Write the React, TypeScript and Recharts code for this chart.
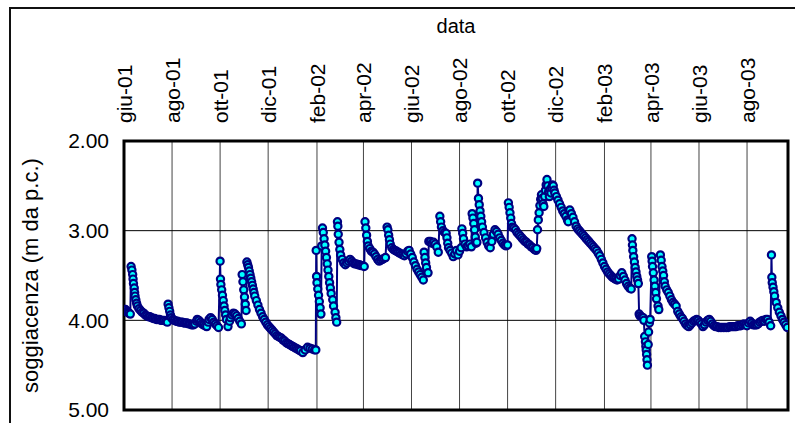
import React from 'react';
import {
  LineChart,
  Line,
  XAxis,
  YAxis,
  CartesianGrid,
  ReferenceArea,
} from 'recharts';

// giorni dal 1 giugno 2001 -> soggiacenza (m da p.c.)
const giu01_ago01: [number, number][] = [
  [0, 3.88], [1, 3.89], [2, 3.88], [3, 3.9], [4, 3.9], [5, 3.91], [6, 3.92], [8, 3.93],
  [9, 3.4], [10, 3.44], [11, 3.49], [11.5, 3.54], [12, 3.59], [13, 3.64], [13.5, 3.69],
  [14, 3.73], [15, 3.77], [16, 3.81], [17, 3.84], [19, 3.87], [21, 3.89], [23, 3.91],
  [25, 3.92], [27, 3.94], [29, 3.95], [31, 3.96], [33, 3.96], [35, 3.97], [37, 3.98],
  [39, 3.98], [41, 3.99], [43, 3.99], [45, 3.99], [47, 4.0], [49, 4.0], [51, 4.0],
  [53, 4.01], [55, 4.02], [56, 3.82], [57, 3.86], [58, 3.9], [59, 3.94], [60, 3.97],
];

const ago01_ott01: [number, number][] = [
  [62, 3.99], [64, 4.0], [66, 4.01], [68, 4.01], [70, 4.02], [72, 4.02], [74, 4.02],
  [76, 4.03], [78, 4.03], [80, 4.03], [82, 4.04], [84, 4.04], [86, 4.05], [88, 4.05],
  [90, 4.04], [92, 4.01], [93, 3.99], [95, 4.0], [97, 4.02], [99, 4.04], [101, 4.05],
  [103, 4.06], [105, 4.07], [107, 4.02], [108, 3.99], [110, 3.97], [112, 3.99],
  [114, 4.02], [116, 4.04], [118, 4.06], [120, 4.08],
];

const ott01_dic01: [number, number][] = [
  [122, 3.34], [122.5, 3.54], [123, 3.6], [124, 3.66], [125, 3.72], [126, 3.78],
  [127, 3.84], [128, 3.89], [129, 3.94], [130, 3.99], [132, 4.07], [134, 4.01],
  [135, 3.97], [137, 3.94], [139, 3.92], [141, 3.93], [143, 3.95], [145, 3.98],
  [147, 4.01], [149, 4.04], [150, 3.49], [151, 3.57], [152, 3.66], [153, 3.74],
  [154, 3.82], [155, 3.89], [156, 3.35], [157, 3.38], [158, 3.41], [159, 3.45],
  [160, 3.49], [161, 3.53], [162, 3.57], [163, 3.61], [164, 3.65], [165, 3.69],
  [166, 3.73], [168, 3.78], [170, 3.83], [172, 3.88], [174, 3.92], [176, 3.96],
  [178, 3.99], [180, 4.02], [182, 4.05],
];

const dic01_feb02: [number, number][] = [
  [184, 4.07], [186, 4.09], [188, 4.11], [190, 4.13], [192, 4.15], [194, 4.17],
  [196, 4.18], [198, 4.19], [200, 4.2], [202, 4.22], [204, 4.23], [206, 4.25],
  [208, 4.26], [210, 4.27], [212, 4.28], [214, 4.29], [216, 4.3], [218, 4.31],
  [220, 4.32], [222, 4.33], [224, 4.34], [227, 4.36], [230, 4.33], [233, 4.3],
  [236, 4.31], [239, 4.32], [242, 4.33], [243.5, 4.33],
];

const feb02_apr02: [number, number][] = [
  [244, 3.22], [244.5, 3.51], [245, 3.58], [246, 3.65], [247, 3.72], [248, 3.79],
  [249, 3.86], [250, 3.93], [251, 3.17], [252, 2.97], [253, 3.02], [254, 3.09],
  [255, 3.16], [256, 3.23], [257, 3.3], [258, 3.37], [259, 3.44], [260, 3.51],
  [261, 3.58], [262, 3.64], [263, 3.7], [265, 3.77], [266, 3.84], [268, 3.91],
  [269, 3.97], [270, 4.02], [271, 2.9], [271.5, 2.95], [272, 3.04], [273, 3.13],
  [274, 3.21], [275, 3.27], [277, 3.32], [279, 3.36], [281, 3.38], [283, 3.36],
  [285, 3.34], [287, 3.32], [289, 3.34], [291, 3.36], [293, 3.37], [295, 3.37],
  [297, 3.38], [299, 3.38], [301, 3.39], [303, 3.39], [305, 3.4],
];

const apr02_giu02: [number, number][] = [
  [306, 2.9], [307, 2.97], [308, 3.05], [309, 3.12], [310, 3.17], [312, 3.2],
  [314, 3.23], [316, 3.24], [318, 3.26], [320, 3.29], [322, 3.32], [324, 3.34],
  [326, 3.33], [328, 3.32], [330, 3.31], [332, 3.3], [334, 2.96], [335, 2.99],
  [336, 3.05], [337, 3.1], [338, 3.15], [340, 3.19], [342, 3.21], [344, 3.22],
  [346, 3.23], [348, 3.24], [350, 3.25], [352, 3.26], [354, 3.27], [356, 3.28],
  [358, 3.26], [360, 3.23], [362, 3.22], [364, 3.26],
];

const giu02_ago02: [number, number][] = [
  [366, 3.3], [368, 3.35], [370, 3.39], [372, 3.43], [374, 3.46], [376, 3.49],
  [378, 3.52], [380, 3.55], [381, 3.24], [382, 3.3], [383, 3.36], [384, 3.41],
  [386, 3.47], [387, 3.12], [389, 3.12], [391, 3.14], [393, 3.13], [395, 3.15],
  [397, 3.18], [399, 3.24], [401, 2.84], [402, 2.9], [403, 2.96], [405, 3.0],
  [407, 3.02], [409, 3.03], [410, 3.08], [411, 3.14], [412, 3.19], [414, 3.22],
  [416, 3.25], [418, 3.29], [420, 3.26], [422, 3.22], [424, 3.27],
];

const ago02_ott02: [number, number][] = [
  [426, 3.23], [428, 3.19], [429, 2.98], [430, 3.03], [431, 3.09], [433, 3.15],
  [435, 3.18], [437, 3.17], [439, 3.15], [441, 3.18], [442, 2.81], [443, 2.86],
  [444, 2.92], [445, 2.99], [446, 3.07], [447, 3.14], [448, 3.13], [449, 2.47],
  [450, 2.64], [451, 2.71], [452, 2.78], [453, 2.84], [454, 2.9], [455, 2.96],
  [457, 3.02], [459, 3.08], [461, 3.13], [463, 3.17], [465, 3.19], [467, 3.12],
  [469, 3.04], [471, 2.99], [473, 3.01], [475, 3.04], [477, 3.08], [479, 3.11],
  [481, 3.14], [483, 3.16], [485, 3.17],
];

const ott02_dic02: [number, number][] = [
  [487, 3.16], [488, 2.69], [489, 2.74], [490, 2.8], [491, 2.86], [492, 2.92],
  [493, 2.96], [495, 2.97], [497, 2.99], [499, 3.02], [501, 3.04], [503, 3.06],
  [505, 3.08], [507, 3.1], [509, 3.12], [511, 3.13], [513, 3.15], [515, 3.16],
  [517, 3.18], [519, 3.19], [521, 3.21], [523, 3.22], [524, 3.2], [525, 2.99],
  [526, 2.88], [527, 2.8], [528, 2.72], [529, 2.65], [530, 2.6], [531, 2.64],
  [532, 2.7], [533, 2.73], [534, 2.62], [535, 2.55], [536, 2.49], [537, 2.43],
  [538, 2.5], [539, 2.57], [540, 2.62], [541, 2.54], [542, 2.58], [543, 2.52],
  [544, 2.49], [545, 2.5], [546, 2.55], [547, 2.58],
];

const dic02_feb03: [number, number][] = [
  [549, 2.62], [551, 2.66], [553, 2.7], [555, 2.74], [557, 2.78], [559, 2.81],
  [561, 2.84], [563, 2.88], [564, 2.9], [565, 2.78], [566, 2.77], [568, 2.81],
  [570, 2.85], [572, 2.9], [574, 2.95], [576, 2.98], [578, 3.0], [580, 3.02],
  [582, 3.04], [584, 3.06], [586, 3.08], [588, 3.1], [590, 3.12], [592, 3.14],
  [594, 3.16], [596, 3.18], [598, 3.2], [600, 3.22], [602, 3.25], [604, 3.28],
  [606, 3.32], [608, 3.36],
];

const feb03_apr03: [number, number][] = [
  [610, 3.4], [612, 3.43], [614, 3.46], [616, 3.48], [618, 3.5], [620, 3.52],
  [622, 3.53], [624, 3.54], [626, 3.55], [628, 3.54], [630, 3.5], [632, 3.47],
  [634, 3.51], [636, 3.55], [638, 3.59], [640, 3.62], [642, 3.64], [644, 3.65],
  [645, 3.09], [645.5, 3.16], [646, 3.22], [647, 3.29], [648, 3.35], [649, 3.41],
  [650, 3.46], [651, 3.51], [652, 3.55], [653, 3.59], [654, 3.93], [655, 3.95],
  [657, 3.96], [659, 3.97], [660, 4.0], [661, 4.18], [662, 4.24], [662.5, 4.29],
  [663, 4.33], [663.5, 4.38], [664, 4.44], [664.5, 4.5], [665.5, 4.27], [666, 4.13],
  [667, 4.03], [668, 3.99],
];

const apr03_giu03: [number, number][] = [
  [670, 3.29], [670.5, 3.34], [671, 3.4], [672, 3.47], [673, 3.55], [674, 3.62],
  [675, 3.69], [676, 3.76], [678, 3.84], [679, 3.88], [681, 3.27], [682, 3.33],
  [683, 3.4], [684, 3.45], [685, 3.5], [686, 3.57], [687, 3.62], [689, 3.66],
  [691, 3.69], [693, 3.73], [695, 3.77], [697, 3.8], [699, 3.82], [701, 3.84],
  [703, 3.9], [705, 3.93], [707, 3.96], [709, 3.98], [711, 4.01], [713, 4.04],
  [715, 4.06], [717, 4.07], [719, 4.05], [721, 4.03], [723, 4.01], [725, 4.0],
  [727, 3.99], [729, 4.0],
];

const giu03_ago03: [number, number][] = [
  [731, 4.02], [733, 4.04], [735, 4.07], [737, 4.05], [739, 4.02], [741, 4.0],
  [743, 3.99], [745, 4.01], [747, 4.04], [749, 4.06], [751, 4.07], [753, 4.07],
  [755, 4.08], [757, 4.08], [759, 4.08], [761, 4.08], [763, 4.08], [765, 4.08],
  [767, 4.08], [769, 4.07], [771, 4.07], [773, 4.07], [775, 4.07], [777, 4.07],
  [779, 4.06], [781, 4.06], [783, 4.06], [785, 4.05], [787, 4.04], [789, 4.05],
];

const ago03_fine: [number, number][] = [
  [791, 4.06], [793, 4.03], [795, 4.01], [797, 4.03], [799, 4.05], [801, 4.05],
  [803, 4.05], [805, 4.04], [807, 4.02], [809, 4.01], [811, 4.0], [813, 4.01],
  [815, 3.99], [817, 3.99], [819, 4.02], [821, 4.06], [822, 3.27], [822.5, 3.52],
  [823, 3.58], [824, 3.63], [825, 3.68], [826, 3.73], [828, 3.8], [830, 3.86],
  [832, 3.91], [834, 3.95], [836, 3.99], [838, 4.02], [840, 4.05], [842, 4.08],
];

const tickMesi = [0, 61, 122, 183, 245, 304, 365, 426, 487, 548, 610, 669, 730, 791];
const etichetteMesi = [
  'giu-01', 'ago-01', 'ott-01', 'dic-01', 'feb-02', 'apr-02', 'giu-02',
  'ago-02', 'ott-02', 'dic-02', 'feb-03', 'apr-03', 'giu-03', 'ago-03',
];
const tickQuota = [2, 3, 4, 5];

const misure = [
  ...giu01_ago01, ...ago01_ott01, ...ott01_dic01, ...dic01_feb02,
  ...feb02_apr02, ...apr02_giu02, ...giu02_ago02, ...ago02_ott02,
  ...ott02_dic02, ...dic02_feb03, ...feb03_apr03, ...apr03_giu03,
  ...giu03_ago03, ...ago03_fine,
].map(([giorno, quota]) => ({ giorno, quota }));

const FONT = '"Liberation Sans", Arial, sans-serif';

// etichetta mese ruotata in verticale
const MeseTick = (props: any) => {
  const { x, y, payload } = props;
  const i = tickMesi.indexOf(payload.value);
  return (
    <g transform={`translate(${x},${y})`}>
      <text
        transform="rotate(-90)"
        textAnchor="start"
        dy="0.36em"
        fontSize={21}
        fill="#000"
        fontFamily={FONT}
      >
        {etichetteMesi[i]}
      </text>
    </g>
  );
};

export default function App() {
  return (
    <div
      style={{
        position: 'fixed',
        left: 0,
        top: 0,
        width: 795,
        height: 423,
        overflow: 'hidden',
        background: '#fff',
        fontFamily: FONT,
      }}
    >
      <div
        style={{
          position: 'absolute',
          left: 9,
          top: 7,
          width: 820,
          height: 460,
          borderTop: '2px solid #111',
          borderLeft: '2px solid #111',
        }}
      />
      <div style={{ position: 'absolute', left: 0, top: 0 }}>
        <LineChart
          width={795}
          height={423}
          data={misure}
          margin={{ top: 41, right: 7, bottom: 13, left: 24 }}
        >
          <CartesianGrid horizontal={false} stroke="#444" strokeWidth={1} />
          <CartesianGrid vertical={false} stroke="#000" strokeWidth={1} />
          <XAxis
            dataKey="giorno"
            type="number"
            orientation="top"
            domain={[0, 843]}
            ticks={tickMesi}
            interval={0}
            height={100}
            tick={<MeseTick />}
            tickSize={0}
            tickMargin={18}
            tickLine={false}
            axisLine={false}
            allowDataOverflow
            label={{ value: 'data', position: 'top', offset: 8, fontSize: 20, fill: '#000' }}
          />
          <YAxis
            type="number"
            domain={[2, 5]}
            ticks={tickQuota}
            reversed
            width={100}
            tickFormatter={(v: number) => v.toFixed(2)}
            tick={{ fontSize: 21, fill: '#000' }}
            tickSize={0}
            tickMargin={15}
            tickLine={false}
            axisLine={false}
            allowDataOverflow
            label={{
              value: 'soggiacenza (m da p.c.)',
              angle: -90,
              position: 'insideLeft',
              offset: 6,
              fontSize: 22,
              fill: '#000',
              style: { textAnchor: 'middle' },
            }}
          />
          <ReferenceArea
            x1={0}
            x2={843}
            y1={2}
            y2={5}
            fill="none"
            fillOpacity={0}
            stroke="#000"
            strokeWidth={3}
          />
          <Line
            type="linear"
            dataKey="quota"
            stroke="#000080"
            strokeWidth={2}
            dot={{ r: 3.6, fill: '#00ffff', stroke: '#000080', strokeWidth: 2.2 }}
            isAnimationActive={false}
          />
        </LineChart>
      </div>
    </div>
  );
}
